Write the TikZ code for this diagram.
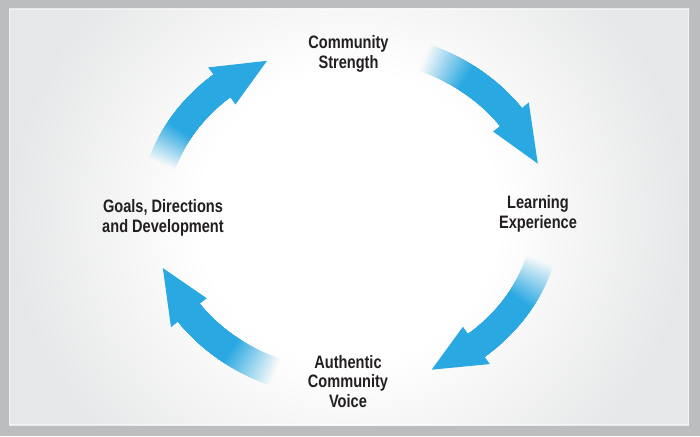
\documentclass[tikz,border=0pt]{standalone}
\usepackage{fontspec}
\newfontfamily\lblfont[FakeStretch=0.81]{Liberation Sans}
\usetikzlibrary{calc}
\definecolor{arrowblue}{RGB}{41,168,225}
\definecolor{framegray}{RGB}{188,189,191}
\definecolor{panelgray}{RGB}{230,231,232}
\definecolor{fadebg}{RGB}{250,250,250}
\definecolor{labelink}{RGB}{35,31,32}
\pgfdeclareradialshading{panelshade}{\pgfpoint{0bp}{0bp}}{%
  color(0bp)=(white); color(11bp)=(white); color(25bp)=(panelgray); color(50bp)=(panelgray)}

% #1 faint tail angle, #2 angle where solid colour starts, #3 head base angle, #4 tip angle
\newcommand{\cycarrow}[4]{%
  \foreach \i in {0,...,30}{%
    \pgfmathsetmacro{\ang}{#1+((#2)-(#1))*\i/30}%
    \pgfmathtruncatemacro{\pct}{100*\i/30}%
    \draw[shaft, arrowblue!\pct!fadebg]
      ({350+197*cos(\ang)},{221+170*sin(\ang)})
      arc[start angle=\ang, end angle={(#3)-1.5}, x radius=197pt, y radius=170pt];
  }%
  \pgfmathsetmacro{\bx}{350+197*cos(#3)}%
  \pgfmathsetmacro{\by}{221+170*sin(#3)}%
  \pgfmathsetmacro{\nxr}{0.863*cos(#3)}%
  \pgfmathsetmacro{\nyr}{sin(#3)}%
  \pgfmathsetmacro{\nl}{sqrt(\nxr*\nxr+\nyr*\nyr)}%
  \pgfmathsetmacro{\nx}{23*\nxr/\nl}%
  \pgfmathsetmacro{\ny}{23*\nyr/\nl}%
  \fill[arrowblue] ({\bx+\nx},{\by+\ny}) -- ({\bx-\nx},{\by-\ny})
    -- ({350+197*cos(#4)},{221+170*sin(#4)}) -- cycle;
}

\begin{document}
\begin{tikzpicture}[x=1pt,y=1pt,
  shaft/.style={line width=28pt},
  lbl/.style={font=\lblfont\bfseries\fontsize{18}{19.5}\selectfont, align=center, text=labelink, inner sep=0pt}]
\useasboundingbox (0,0) rectangle (700,436);
% frame and panel
\fill[framegray] (0,0) rectangle (700,436);
\begin{scope}
  \clip (9,11) rectangle (689,427);
  \shade[shading=panelshade] (9,-110) rectangle (689,548);
\end{scope}
\draw[white, opacity=0.5, line width=0.8pt] (9.6,11.6) rectangle (688.4,426.4);

% arrows
\cycarrow{68}{54}{35.2}{17.6}
\cycarrow{-15}{-30}{-50.1}{-65.5}
\cycarrow{248}{233}{215.1}{198.2}
\cycarrow{163}{150}{130.6}{114.9}

% labels
\node[lbl] (strength) at (348.5,382) {Community\\Strength};
\node[lbl] (learning) at (538,222) {Learning\\Experience};
\node[lbl] (voice) at (348,54.5) {Authentic\\Community\\Voice};
\node[lbl] (goals) at (163,218) {Goals, Directions\\and Development};
\end{tikzpicture}
\end{document}
